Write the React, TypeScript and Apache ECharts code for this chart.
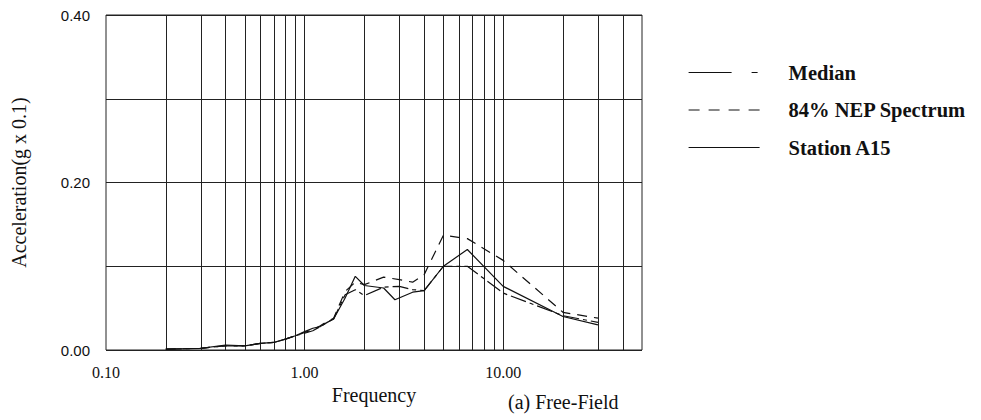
import React, { useEffect, useRef } from "react";
import * as echarts from "echarts";

const seriesNames = ["Median", "84% NEP Spectrum", "Station A15"];

const medianFreq = [0.2, 0.3, 0.4, 0.5, 0.6, 0.7, 0.8, 0.9, 1.0, 1.1, 1.2, 1.3, 1.4, 1.6, 1.8, 2.0, 2.5, 3.0, 3.5, 4.0, 5.0, 6.6, 10, 20, 30];
const medianVal = [0.001, 0.002, 0.005, 0.005, 0.008, 0.009, 0.013, 0.017, 0.020, 0.023, 0.028, 0.033, 0.037, 0.066, 0.072, 0.065, 0.075, 0.076, 0.072, 0.071, 0.100, 0.100, 0.068, 0.041, 0.033];

const nepFreq = [0.2, 0.3, 0.4, 0.5, 0.6, 0.7, 0.8, 0.9, 1.0, 1.1, 1.2, 1.3, 1.4, 1.6, 1.8, 2.0, 2.5, 3.0, 3.5, 4.0, 5.0, 6.6, 10, 20, 30];
const nepVal = [0.001, 0.002, 0.005, 0.005, 0.008, 0.009, 0.013, 0.017, 0.021, 0.024, 0.029, 0.034, 0.038, 0.070, 0.081, 0.078, 0.087, 0.084, 0.081, 0.090, 0.137, 0.133, 0.107, 0.045, 0.038];

const stationFreq = [0.2, 0.3, 0.4, 0.5, 0.6, 0.7, 0.8, 0.9, 1.0, 1.1, 1.2, 1.3, 1.4, 1.6, 1.8, 2.0, 2.5, 2.85, 3.5, 4.0, 5.0, 6.6, 10, 20, 30];
const stationVal = [0.001, 0.002, 0.006, 0.005, 0.008, 0.009, 0.013, 0.017, 0.022, 0.026, 0.028, 0.033, 0.037, 0.062, 0.088, 0.077, 0.074, 0.060, 0.069, 0.071, 0.100, 0.120, 0.076, 0.040, 0.030];

const xGridLines = [0.2, 0.3, 0.4, 0.5, 0.6, 0.7, 0.8, 0.9, 1, 2, 3, 4, 5, 6, 7, 8, 9, 10, 20, 30, 40];
const xTickLabels = ["0.10", "1.00", "10.00"];
const yTickLabels = ["0.00", "0.20", "0.40"];

const SERIF = "'Liberation Serif', 'Times New Roman', serif";
const SANS = "'Liberation Sans', Arial, sans-serif";

const pairs = (f: number[], v: number[]) => f.map((x, i) => [x, v[i]]);

export default function App() {
  const ref = useRef<HTMLDivElement>(null);
  useEffect(() => {
    if (!ref.current) return;
    const chart = echarts.init(ref.current, undefined, { renderer: "svg" });
    const lineBase = { color: "#111", width: 1.2 };
    chart.setOption({
      animation: false,
      backgroundColor: "#fff",
      grid: {
        left: 106,
        right: 339,
        top: 15,
        bottom: 70,
        show: true,
        borderColor: "#222",
        borderWidth: 1,
        backgroundColor: "transparent",
      },
      legend: {
        orient: "vertical",
        left: 688,
        top: 62,
        padding: 0,
        itemWidth: 71,
        itemHeight: 20,
        itemGap: 16.5,
        selectedMode: false,
        itemStyle: { opacity: 0 },
        textStyle: {
          fontFamily: SERIF,
          fontWeight: "bold",
          fontSize: 20.5,
          color: "#111",
          padding: [0, 0, 0, 24],
        },
        data: [
          { name: seriesNames[0], itemStyle: { opacity: 0 }, lineStyle: { type: [43, 20, 6, 4], width: 1.2, color: "#111" } },
          { name: seriesNames[1], itemStyle: { opacity: 0 }, lineStyle: { type: [11, 9], width: 1.2, color: "#111" } },
          { name: seriesNames[2], itemStyle: { opacity: 0 }, lineStyle: { type: "solid", width: 1.2, color: "#111" } },
        ],
      },
      xAxis: {
        type: "log",
        logBase: 10,
        min: 0.1,
        max: 50,
        name: "Frequency",
        nameLocation: "middle",
        nameGap: 23,
        nameTextStyle: { fontFamily: SERIF, fontSize: 20, color: "#111" },
        axisLine: { show: false },
        axisTick: { show: false },
        splitLine: { show: false },
        axisLabel: {
          fontFamily: SERIF,
          fontSize: 16,
          color: "#111",
          margin: 14,
          showMaxLabel: false,
          formatter: (v: number) => {
            const idx = Math.round(Math.log10(v) + 1);
            return xTickLabels[idx] ?? "";
          },
        },
      },
      yAxis: {
        type: "value",
        min: 0,
        max: 0.4,
        interval: 0.1,
        name: "Acceleration(g x 0.1)",
        nameLocation: "middle",
        nameGap: 77,
        nameTextStyle: { fontFamily: SERIF, fontSize: 20, color: "#111" },
        axisLine: { show: false },
        axisTick: { show: false },
        splitLine: { show: true, lineStyle: { color: "#222", width: 1 } },
        axisLabel: {
          fontFamily: SANS,
          fontSize: 15,
          color: "#111",
          margin: 16,
          formatter: (v: number) => {
            const k = Math.round(v * 10);
            return k % 2 === 0 ? yTickLabels[k / 2] : "";
          },
        },
      },
      series: [
        {
          name: seriesNames[0],
          type: "line",
          symbol: "none",
          data: pairs(medianFreq, medianVal),
          lineStyle: { ...lineBase, type: [16, 4, 4, 4] },
          z: 3,
          markLine: {
            silent: true,
            symbol: ["none", "none"],
            label: { show: false },
            lineStyle: { color: "#222", width: 1, type: "solid" },
            data: xGridLines.map((x) => ({ xAxis: x })),
            z: 1,
          },
        },
        {
          name: seriesNames[1],
          type: "line",
          symbol: "none",
          data: pairs(nepFreq, nepVal),
          lineStyle: { ...lineBase, type: [10, 7] },
          z: 3,
        },
        {
          name: seriesNames[2],
          type: "line",
          symbol: "none",
          data: pairs(stationFreq, stationVal),
          lineStyle: { ...lineBase, type: "solid" },
          z: 3,
        },
      ],
      graphic: [
        {
          type: "text",
          left: 508,
          top: 392,
          style: { text: "(a) Free-Field", font: `20px ${SERIF}`, fill: "#111" },
        },
      ],
    });
    return () => chart.dispose();
  }, []);
  return (
    <div
      ref={ref}
      style={{ position: "fixed", left: 0, top: 0, width: 981, height: 420, background: "#fff" }}
    />
  );
}
